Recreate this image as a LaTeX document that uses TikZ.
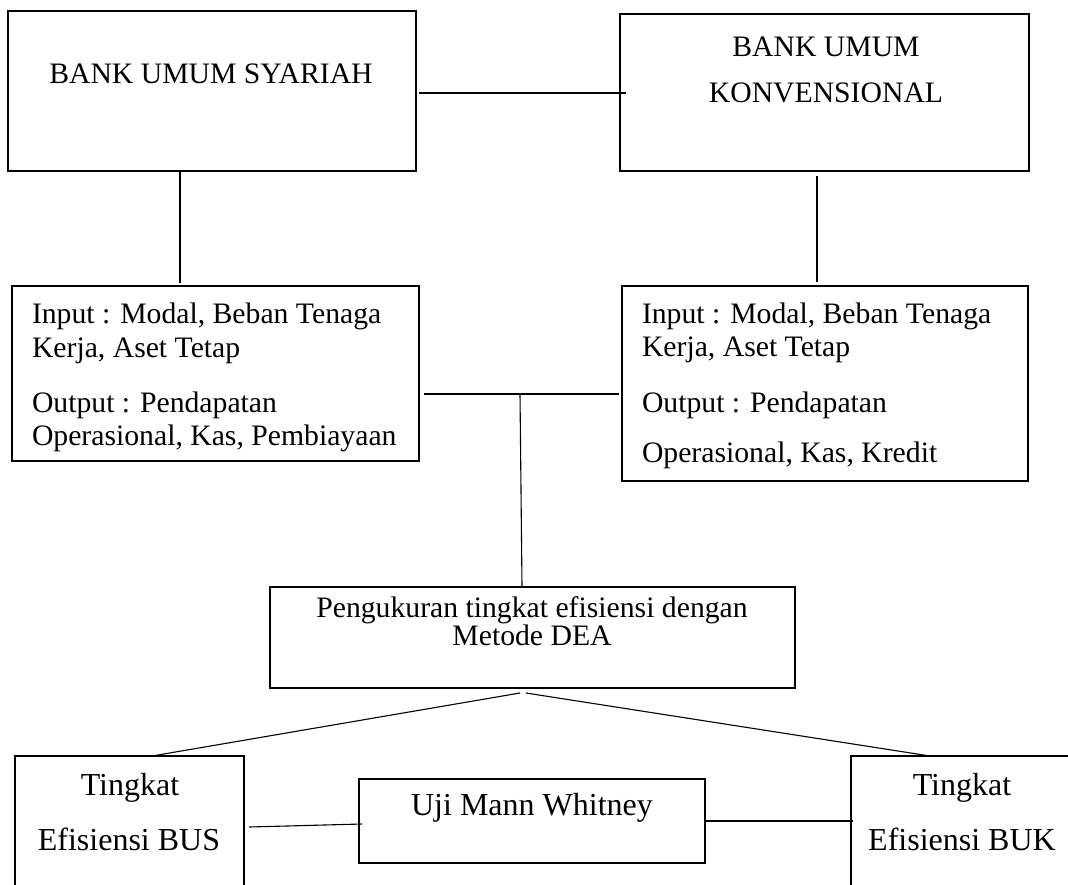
\documentclass[tikz,border=0pt]{standalone}
\usepackage{fontspec}
\setmainfont{Liberation Serif}
\usetikzlibrary{calc}
\begin{document}
\begin{tikzpicture}[x=1pt,y=-1pt,
  box/.style={draw=black,line width=1.1pt,rectangle,inner sep=0pt,outer sep=0pt},
  txt/.style={inner sep=0pt,outer sep=0pt,anchor=base,font=\fontsize{29.7}{34}\selectfont},
  txtl/.style={txt,anchor=base west},
  txtbig/.style={txt,font=\fontsize{32}{37}\selectfont},
  thick line/.style={line width=1.6pt},
  thin line/.style={line width=1.1pt}]
\useasboundingbox (0,0) rectangle (1068,884);
\fill[white] (0,0) rectangle (1068,884);
\clip (0,0) rectangle (1068,884);
% boxes
\node[box,minimum width=408pt,minimum height=160pt] (A) at (212,91) {};
\node[box,minimum width=409pt,minimum height=157pt] (B) at (824.5,92.5) {};
\node[box,minimum width=407pt,minimum height=175pt] (C) at (215.5,373.5) {};
\node[box,minimum width=406pt,minimum height=195pt] (D) at (825,383.5) {};
\node[box,minimum width=525pt,minimum height=101pt] (E) at (532.5,637.5) {};
\node[box,minimum width=229pt,minimum height=154pt] (F) at (129.5,833) {};
\node[box,minimum width=346pt,minimum height=84pt] (G) at (532,821) {};
\node[box,minimum width=229pt,minimum height=154pt] (H) at (965.5,833) {};
% texts
\node[txt] (tA) at (211,83) {BANK UMUM SYARIAH};
\node[txt] (tB1) at (826,56) {BANK UMUM};
\node[txt] (tB2) at (826,102) {KONVENSIONAL};
\node[txtl] (tC1) at (32,323) {Input : Modal, Beban Tenaga};
\node[txtl] (tC2) at (32,357) {Kerja, Aset Tetap};
\node[txtl] (tC3) at (32,412) {Output : Pendapatan};
\node[txtl] (tC4) at (32,445) {Operasional, Kas, Pembiayaan};
\node[txtl] (tD1) at (642,323) {Input : Modal, Beban Tenaga};
\node[txtl] (tD2) at (642,356) {Kerja, Aset Tetap};
\node[txtl] (tD3) at (642,412) {Output : Pendapatan};
\node[txtl] (tD4) at (642,462) {Operasional, Kas, Kredit};
\node[txt] (tE1) at (532,617) {Pengukuran tingkat efisiensi dengan};
\node[txt] (tE2) at (532,645) {Metode DEA};
\node[txtbig] (tF1) at (130,795) {Tingkat};
\node[txtbig] (tF2) at (129,850) {Efisiensi BUS};
\node[txtbig] (tG) at (532,815) {Uji Mann Whitney};
\node[txtbig] (tH1) at (962,795) {Tingkat};
\node[txtbig] (tH2) at (962,850) {Efisiensi BUK};
% connectors
\draw[thick line] ($(A.east)+(3,2)$) -- ($(B.west)+(6,0.5)$);
\draw[thick line] ($(A.south)+(-32,0)$) -- ($(C.north)+(-35.5,-3)$);
\draw[thick line] ($(B.south)+(-7.5,5)$) -- ($(D.north)+(-8,-4)$);
\coordinate (J) at (520,394);
\draw[thick line] ($(C.east)+(5,20.5)$) -- ($(D.west)+(-3,10.5)$);
\draw[thin line] (J) -- ($(E.north)+(-10.5,-1)$);
\draw[thin line] ($(E.south)+(-12.5,5)$) -- ($(F.north)+(22.5,0)$);
\draw[thin line] ($(E.south)+(-6.5,5)$) -- ($(H.north)+(-35.5,0)$);
\draw[thin line] ($(F.east)+(5,-6)$) -- ($(G.west)+(3,3)$);
\draw[thick line] ($(G.east)+(1,0)$) -- ($(H.west)+(2,-12)$);
\end{tikzpicture}
\end{document}
